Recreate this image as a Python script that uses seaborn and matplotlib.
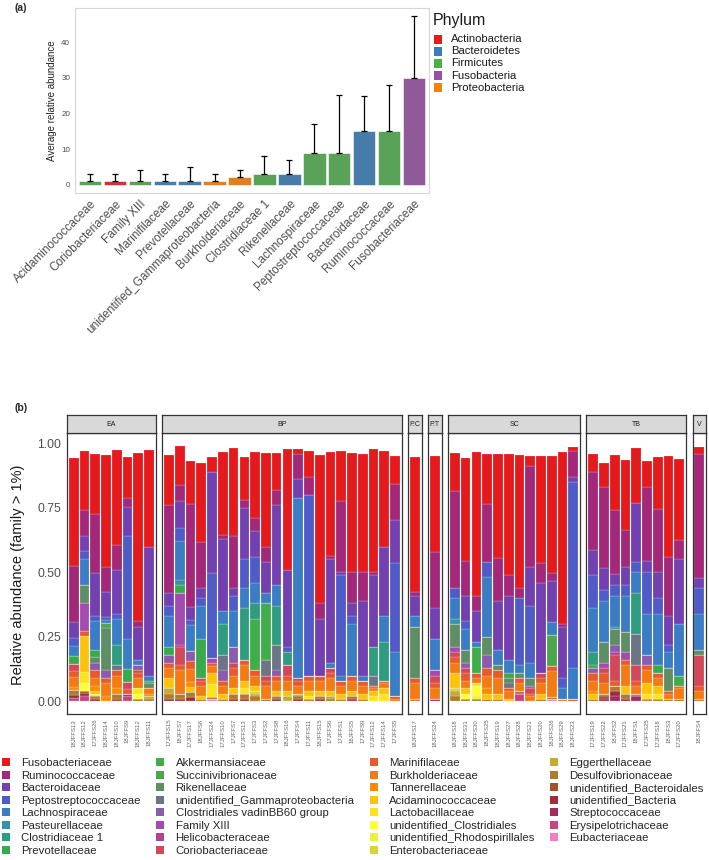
import numpy as np
import pandas as pd
import seaborn as sns
import matplotlib.pyplot as plt
from matplotlib.patches import Patch, Rectangle

sns.set_style('white')
plt.rcParams['font.family'] = ['Liberation Sans', 'DejaVu Sans']

# ---------------- (a) average abundance of the main families ----------------
top_families = ['Acidaminococcaceae', 'Coriobacteriaceae', 'Family XIII', 'Marinifilaceae',
                'Prevotellaceae', 'unidentified_Gammaproteobacteria', 'Burkholderiaceae',
                'Clostridiaceae 1', 'Rikenellaceae', 'Lachnospiraceae', 'Peptostreptococcaceae',
                'Bacteroidaceae', 'Ruminococcaceae', 'Fusobacteriaceae']
top_phylum = ['Firmicutes', 'Actinobacteria', 'Firmicutes', 'Bacteroidetes', 'Bacteroidetes',
              'Proteobacteria', 'Proteobacteria', 'Firmicutes', 'Bacteroidetes', 'Firmicutes',
              'Firmicutes', 'Bacteroidetes', 'Firmicutes', 'Fusobacteria']
top_mean = [1, 1, 1, 1, 1, 1, 2, 3, 3, 9, 9, 15, 15, 30]
top_sd = [2, 2, 3, 2, 4, 2, 2, 5, 4, 8, 16.1, 10, 13.1, 17.4]
phyla = ['Actinobacteria', 'Bacteroidetes', 'Firmicutes', 'Fusobacteria', 'Proteobacteria']
phylum_colors = ['#E41A1C', '#377EB8', '#4DAF4A', '#984EA3', '#FF7F00']

# ---------------- (b) composition per sample ----------------
groups = ['EA', 'BP', 'P.C', 'P.T', 'SC', 'TB', 'V']
group_sizes = [8, 22, 1, 1, 12, 9, 1]
samples = ['18JFFS13', '18JFFS12', '17JFFS26', '18JFFS14', '18JFFS10', '18JFFS9', '18JFFS12', '18JFFS11',
           '17JFFS15', '18JFFS7', '17JFFS17', '18JFFS6', '17JFFS24', '17JFFS10', '17JFFS7', '17JFFS13',
           '17JFFS3', '17JFFS2', '17JFFS8', '18JFFS16', '17JFFS4', '17JFFS11', '18JFFS15', '17JFFS6',
           '17JFFS1', '18JFFS5', '17JFFS9', '17JFFS12', '17JFFS14', '17JFFS5',
           '18JFFS17',
           '18JFFS24',
           '18JFFS18', '18JFFS31', '18JFFS30', '18JFFS25', '18JFFS19', '18JFFS27', '18JFFS28', '18JFFS21',
           '18JFFS20', '18JFFS26', '18JFFS29', '18JFFS23',
           '17JFFS19', '17JFFS22', '18JFFS2', '17JFFS21', '18JFFS1', '17JFFS25', '17JFFS18', '18JFFS3',
           '17JFFS20',
           '18JFFS4']

families = ['Fusobacteriaceae', 'Ruminococcaceae', 'Bacteroidaceae', 'Peptostreptococcaceae',
            'Lachnospiraceae', 'Pasteurellaceae', 'Clostridiaceae 1', 'Prevotellaceae',
            'Akkermansiaceae', 'Succinivibrionaceae', 'Rikenellaceae', 'unidentified_Gammaproteobacteria',
            'Clostridiales vadinBB60 group', 'Family XIII', 'Helicobacteraceae', 'Coriobacteriaceae',
            'Marinifilaceae', 'Burkholderiaceae', 'Tannerellaceae', 'Acidaminococcaceae',
            'Lactobacillaceae', 'unidentified_Clostridiales', 'unidentified_Rhodospirillales',
            'Enterobacteriaceae', 'Eggerthellaceae', 'Desulfovibrionaceae', 'unidentified_Bacteroidales',
            'unidentified_Bacteria', 'Streptococcaceae', 'Erysipelotrichaceae', 'Eubacteriaceae']
family_colors = ['#E41A1C', '#A3287A', '#7340B0', '#4F5BC6', '#3B7DC4', '#3493A8', '#2F9C80', '#38AA4E',
                 '#40AE48', '#4CA64C', '#5E8E63', '#6B7585', '#8A5BAE', '#A24BB0', '#B24290', '#D2485A',
                 '#E65A2E', '#F47A14', '#FF8A00', '#FFC20A', '#FFE31E', '#FFFF33', '#EFEF3E', '#D9D23C',
                 '#C9A935', '#B27A2A', '#A2502E', '#A02E3A', '#A62A5C', '#C8447E', '#F27FC6']

# main families, one value per sample (EA | BP | P.C | P.T | SC | TB | V)
fuso = [.42, .228, .233, .435, .369, .156, .653, .373,
        .193, .151, .168, .307, .058, .32, .34, .166, .256, .364, .141, .467, .019, .10, .574, .403,
        .195, .461, .455, .477, .372, .108,
        .526, .371,
        .146, .398, .556, .195, .401, .47, .516, .036, .412, .454, .666, .017,
        .069, .095, .215, .273, .213, .104, .201, .392, .314,
        .025]
rumino = [.218, .10, .23, .095, .095, .035, .02, 0,
          .34, .061, .40, .178, 0, .015, .20, .032, .05, .06, .06, 0, .096, .07, .06, .015,
          .273, .12, .113, .01, 0, .141,
          .012, .22,
          .376, .135, .06, .225, .166, .08, .04, .393, .077, .03, .01, .10,
          .304, .312, .246, .144, 0, .284, .245, .23, .074,
          .483]
bactero = [.06, .06, .167, .10, .17, .115, .13, .50,
           .05, .106, .05, .04, .392, .28, .03, .20, .10, .12, .31, .30, .072, 0, .22, .40,
           .012, .05, .29, .28, .27, .167,
           .08, .12,
           0, .10, .12, 0, .19, .25, 0, .15, .35, .16, .20, .02,
           .096, .088, .045, .07, .227, .045, .10, .11, .25,
           .037]
pepto = [.03, .03, .02, .01, .02, .40, 0, 0,
         .04, .05, .02, .03, .33, 0, .06, .11, .10, 0, 0, .02, 0, .70, 0, 0,
         .39, .03, 0, 0, 0, .345,
         0, 0,
         .04, .03, 0, .06, 0, 0, .26, .22, 0, 0, .04, .72,
         .13, .04, .04, .04, .04, .16, .06, .03, 0,
         .10]
lachno = [.04, .10, .11, .01, .10, .114, .02, .02,
          .12, .15, .10, .13, 0, .05, .14, .08, .08, .04, .08, 0, .70, 0, 0, .02,
          .02, .20, .02, 0, .10, .17,
          .04, .12,
          .08, .08, .02, .23, .06, .05, .03, .06, 0, .05, .04, .12,
          .17, .16, .12, .14, .08, .16, .20, .06, .20,
          .14]
marini = [.02, .02, .03, .02, .02, .016, .02, 0,
          .02, .02, .03, .02, .01, .02, .03, .02, .02, .02, .02, .02, .02, .02, .02, .02,
          .02, .02, .02, .01, .01, .01,
          .02, .02,
          .02, .03, .02, .03, .03, .01, .02, .01, .02, .02, 0, .01,
          .03, .04, .02, .02, .02, .02, .02, .01, .01,
          .02]
burk = [.04, 0, .03, .05, .05, 0, .04, .02,
        .04, .09, .05, .04, .03, .03, .05, .06, .04, .05, .04, .04, .03, .04, .04, .05,
        .03, .04, .03, .01, .02, .01,
        .06, .04,
        .04, .03, .02, .05, .06, .03, .03, .02, .04, .10, .01, 0,
        .04, .04, 0, .08, .03, .05, .03, .02, .04,
        .03]
desulfo = [.02, 0, .01, 0, .02, 0, .01, .01,
           .02, .02, .02, .01, .01, .01, .02, .02, .02, .01, .01, 0, .01, .01, .01, .01,
           .01, .01, .01, 0, 0, 0,
           .01, 0,
           .02, .01, .01, .01, .01, 0, .01, 0, .01, .01, 0, 0,
           .01, .01, .02, .02, .01, .01, .01, .01, .01,
           .01]

# minor families: {sample index: value}
pasteur = {9: .02, 32: .02, 46: .01}
clost1 = {4: .08, 13: .12, 15: .20, 16: .06, 18: .15, 19: .05, 27: .11, 28: .15, 44: .05, 48: .16}
prevot = {0: .03, 2: .03, 5: .05, 7: .01, 8: .03, 9: .03, 11: .15, 37: .02, 44: .01, 50: .03}
akker = {16: .20, 17: .22, 34: .10, 52: .04}
succini = {3: .02, 41: .12}
riken = {1: .07, 2: .02, 3: .165, 7: .02, 30: .20, 32: .09, 33: .05, 35: .07, 36: .02, 37: .02,
         38: .02, 39: .03, 45: .08, 46: .06, 47: .08, 51: .09, 53: .02}
ugamma = {4: .02, 13: .06, 17: .06, 18: .10, 27: .04, 37: .02, 48: .12}
vadin = {2: .03, 3: .03, 6: .02, 8: .03, 10: .04, 13: .04, 14: .06, 18: .02, 33: .02, 35: .05,
         44: .02, 46: .03, 49: .04}
famxiii = {1: .11, 9: .20, 12: .02, 31: .02, 32: .02, 39: .01, 45: .02, 47: .03}
helico = {9: .01, 46: .01}
corio = {0: .03, 5: .03, 6: .01, 9: .07, 11: .01, 14: .02, 17: .02, 19: .04, 20: .01, 23: .02,
         31: .03, 32: .02, 33: .02, 39: .02, 40: .02, 45: .02, 46: .10, 48: .06, 53: .12}
tanner = {0: .012, 2: .02, 3: .02, 4: .02, 7: .01, 10: .02, 35: .02, 44: .01}
acidam = {1: .14, 2: .01, 8: .04, 10: .02, 11: .01, 12: .04, 13: .02, 14: .02, 15: .03, 16: .02,
          18: .02, 19: .02, 21: .02, 22: .02, 23: .02, 24: .02, 25: .02, 26: .02, 27: .02, 28: .02,
          32: .06, 33: .02, 35: .02, 36: .02, 37: .01, 40: .02, 44: .02, 47: .03, 49: .04, 50: .03}
lacto = {1: .04, 6: .02, 12: .05, 15: .02, 21: .01, 27: .02, 28: .03, 34: .01, 49: .02, 50: .02}
uclost = {1: .03, 6: .02, 33: .02, 34: .04}
urhodo = {2: .01, 34: .01}
entero = {16: .01, 32: .01}
eggerth = {7: .01, 8: .02, 16: .01, 19: .02, 20: .01, 23: .01, 32: .02}
ubacteroidales = {1: .01, 4: .01, 45: .01}
ubacteria = {0: .012, 2: .01, 5: .01, 8: .01, 9: .01, 10: .015, 14: .01, 15: .01, 18: .01, 20: .01,
             22: .01, 25: .01, 45: .01, 46: .02, 47: .01}
strepto = {1: .012, 31: .01, 46: .02, 48: .02}
erysip = {0: .012, 1: .02, 5: .02, 38: .03}
eubac = {12: .008, 41: .008}

n = len(samples)


def dense(d):
    return [d.get(i, 0) for i in range(n)]


series = [fuso, rumino, bactero, pepto, lachno, dense(pasteur), dense(clost1), dense(prevot),
          dense(akker), dense(succini), dense(riken), dense(ugamma), dense(vadin), dense(famxiii),
          dense(helico), dense(corio), marini, burk, dense(tanner), dense(acidam), dense(lacto),
          dense(uclost), dense(urhodo), dense(entero), dense(eggerth), desulfo,
          dense(ubacteroidales), dense(ubacteria), dense(strepto), dense(erysip), dense(eubac)]

group_of, pos_of = [], []
for g, k in zip(groups, group_sizes):
    group_of += [g] * k
    pos_of += list(range(k))

rows = []
for fam, vals in zip(families, series):
    for i, v in enumerate(vals):
        rows.append((group_of[i], pos_of[i], samples[i], fam, v))
df = pd.DataFrame(rows, columns=['group', 'pos', 'sample', 'family', 'value'])

# ---------------- figure ----------------
W, H = 709, 860
fig = plt.figure(figsize=(W / 100, H / 100), dpi=100)


def box(x0, y0, x1, y1):
    return [x0 / W, 1 - y1 / H, (x1 - x0) / W, (y1 - y0) / H]


grey_txt = '#4D4D4D'

# panel (a)
ax = fig.add_axes(box(75, 8, 429, 193))
df_a = pd.DataFrame({'family': top_families, 'phylum': top_phylum, 'mean': top_mean, 'sd': top_sd})
sns.barplot(data=df_a, x='family', y='mean', hue='phylum', hue_order=phyla, order=top_families,
            palette=dict(zip(phyla, phylum_colors)), dodge=False, width=0.9, errorbar=None,
            legend=False, edgecolor='white', linewidth=0.4, ax=ax)
ax.errorbar(np.arange(len(top_mean)), top_mean, yerr=[np.zeros(len(top_sd)), top_sd], fmt='none',
            ecolor='black', elinewidth=0.9, capsize=2.2, capthick=0.9)
ax.set_xlim(-0.6, 13.6)
ax.set_ylim(-2.37, 49.7)
ax.set_yticks([0, 10, 20, 30, 40])
ax.set_xlabel('')
ax.set_ylabel('Average relative abundance', fontsize=7, color='#222222', labelpad=3)
ax.tick_params(axis='y', labelsize=5.8, colors='#999999', labelcolor=grey_txt, length=2.5, width=0.6, pad=1)
ax.tick_params(axis='x', colors='#999999', labelcolor=grey_txt, length=2.5, width=0.6, pad=1)
ax.set_xticks(range(len(top_families)))
ax.set_xticklabels(top_families, rotation=45, ha='right', rotation_mode='anchor', fontsize=8.5)
for s in ax.spines.values():
    s.set_color('#D6D6D6')
    s.set_linewidth(0.8)

# phylum legend, laid out by hand like the ggplot key
fig.text(433 / W, 1 - 20 / H, 'Phylum', fontsize=11.5, va='center', ha='left', color='#1A1A1A')
for i, (ph, c) in enumerate(zip(phyla, phylum_colors)):
    yc = 39 + i * 12.2
    fig.add_artist(Rectangle((434 / W, 1 - (yc + 4.5) / H), 8 / W, 9 / H, transform=fig.transFigure,
                             facecolor=c, edgecolor='none'))
    fig.text(451 / W, 1 - yc / H, ph, fontsize=8.1, va='center', ha='left', color='#1A1A1A')

fig.text(15 / W, 1 - 8 / H, '(a)', fontsize=7.5, fontweight='bold', va='center')
fig.text(15 / W, 1 - 408 / H, '(b)', fontsize=7.5, fontweight='bold', va='center')

# panel (b): one facet per habitat, widths proportional to sample count
pal = dict(zip(families, family_colors))
gap = 6.5
unit = (706 - 67 - gap * (len(groups) - 1)) / (sum(group_sizes) + 0.25 * len(groups))
x = 67
for gi, (g, k) in enumerate(zip(groups, group_sizes)):
    w = unit * (k + 0.25)
    axb = fig.add_axes(box(x, 433, x + w, 714))
    sub = df[df['group'] == g]
    sns.histplot(data=sub, x='pos', weights='value', hue='family', hue_order=families, palette=pal,
                 multiple='stack', discrete=True, shrink=0.9, alpha=1, legend=False,
                 edgecolor=(1, 1, 1, 0.45), linewidth=0.3, ax=axb)
    axb.set_xlim(-0.625, k - 0.375)
    axb.set_ylim(-0.049, 1.04)
    axb.set_xlabel('')
    axb.set_ylabel('')
    axb.set_xticks(range(k))
    axb.set_xticklabels(samples[sum(group_sizes[:gi]):sum(group_sizes[:gi]) + k], rotation=90,
                        fontsize=4.3, color=grey_txt)
    axb.tick_params(axis='x', length=1.5, width=0.4, colors='#666666', pad=2)
    if gi == 0:
        axb.set_yticks([0, 0.25, 0.5, 0.75, 1.0])
        axb.set_yticklabels(['0.00', '0.25', '0.50', '0.75', '1.00'], fontsize=8.8, color=grey_txt)
        axb.tick_params(axis='y', length=2, width=0.5, colors='#666666', labelcolor=grey_txt, pad=2)
    else:
        axb.set_yticks([])
    for s in axb.spines.values():
        s.set_color('#333333')
        s.set_linewidth(0.9)
    strip = fig.add_axes(box(x, 415, x + w, 433))
    strip.set_facecolor('#D9D9D9')
    strip.set_xticks([])
    strip.set_yticks([])
    for s in strip.spines.values():
        s.set_color('#333333')
        s.set_linewidth(0.9)
    strip.text(0.5, 0.48, g, ha='center', va='center', fontsize=5, color='#1A1A1A',
               transform=strip.transAxes)
    x += w + gap

fig.text(18 / W, 1 - 575 / H, 'Relative abundance (family > 1%)', rotation=90, ha='center', va='center',
         fontsize=10.5, color='#1A1A1A')

handles_b = [Patch(facecolor=c, edgecolor='none') for c in family_colors]
fig.legend(handles_b, families, ncol=4, loc='upper left', bbox_to_anchor=(2 / W, 1 - 758 / H),
           frameon=False, fontsize=8.2, handlelength=0.7, handleheight=0.7, handletextpad=1.0,
           columnspacing=1.35, labelspacing=0.22, borderpad=0, borderaxespad=0)

fig.savefig('out.png', dpi=100)
